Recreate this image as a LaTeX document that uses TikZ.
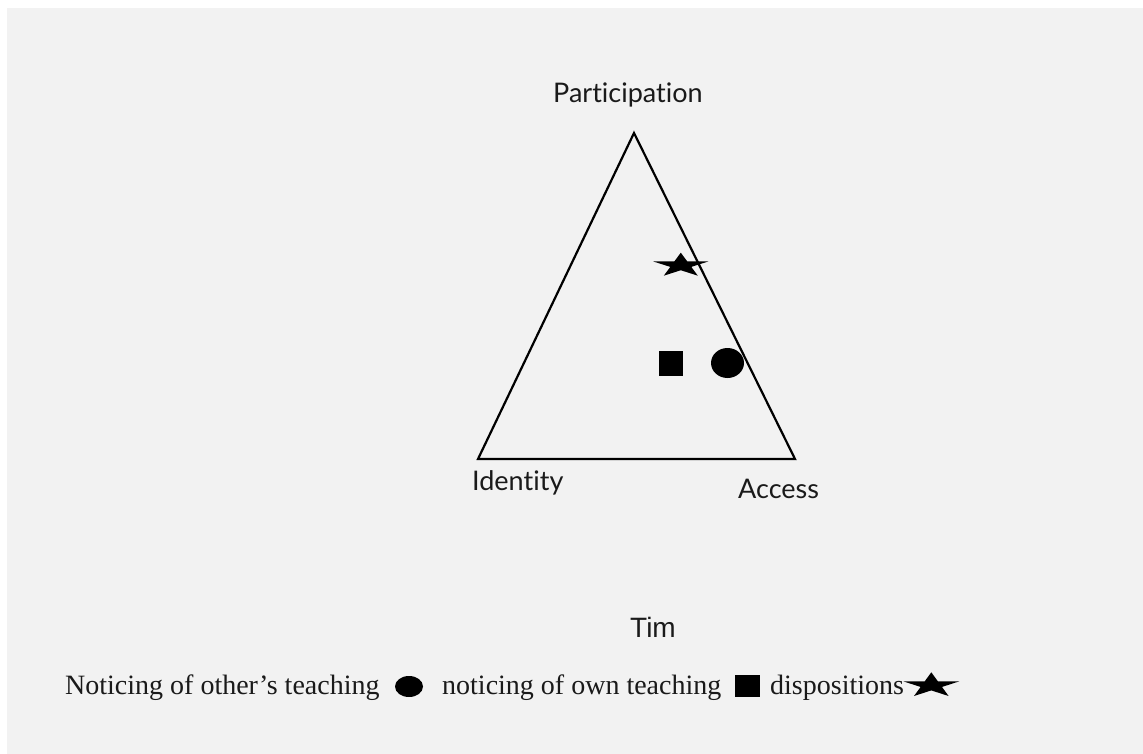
\documentclass[tikz,border=0pt]{standalone}
\usepackage{fontspec}
\setmainfont{Liberation Serif}
\newfontfamily\gillish[Ligatures=NoCommon]{Lato}
\newfontfamily\arialish{Liberation Sans}
\definecolor{bggray}{HTML}{F2F2F2}
\definecolor{txt}{HTML}{1A1A1A}
\newcommand{\flatstar}[4]{% cx, cy, rx, ry  (y axis points down)
  \fill[black] ({#1},{#2-#4})
  \foreach \k in {1,...,9} {
    -- ({#1+#3*(mod(\k,2)==0?1:0.382)*cos(90+36*\k)},{#2-#4*(mod(\k,2)==0?1:0.382)*sin(90+36*\k)})
  } -- cycle;}
\begin{document}
\begin{tikzpicture}[x=1pt,y=-1pt,
  sanslabel/.style={anchor=base west,inner sep=0,text=txt,font=\gillish\fontsize{27}{32}\selectfont},
  legendtext/.style={anchor=base west,inner sep=0,text=txt,font=\fontsize{28}{33}\selectfont},
  edge/.style={line width=2.2pt,line join=miter}]
\useasboundingbox (0,0) rectangle (1143,754);
\fill[white] (0,0) rectangle (1143,754);
\fill[bggray] (7,8) rectangle (1143,754);
% triangle
\coordinate (P) at (634,133);
\coordinate (I) at (478,459);
\coordinate (A) at (795,459);
\draw[edge] (P) -- (I) -- (A) -- cycle;
% vertex labels
\node[sanslabel] (lp) at (553,103) {Participation};
\node[sanslabel] (li) at (472,490) {Identity};
\node[sanslabel] (la) at (738,498) {Access};
% markers in triangle
\flatstar{680.8}{265.4}{28.9}{12.7}
\fill[black] (659,351) rectangle (683,376);
\fill[black] (727.5,363) ellipse [x radius=16.5, y radius=15];
% title
\node[anchor=base west,inner sep=0,text=txt,font=\arialish\fontsize{28}{33}\selectfont] (tim) at (630,637) {Tim};
% legend
\node[legendtext] (l1) at (65,694) {Noticing of other’s teaching};
\fill[black] (409,686.5) ellipse [x radius=14, y radius=10.5];
\node[legendtext] (l2) at (442,694) {noticing of own teaching};
\fill[black] (735,675) rectangle (760,697);
\node[legendtext] (l3) at (770,694) {dispositions};
\flatstar{931.3}{685.4}{29.4}{13.1}
\end{tikzpicture}
\end{document}
